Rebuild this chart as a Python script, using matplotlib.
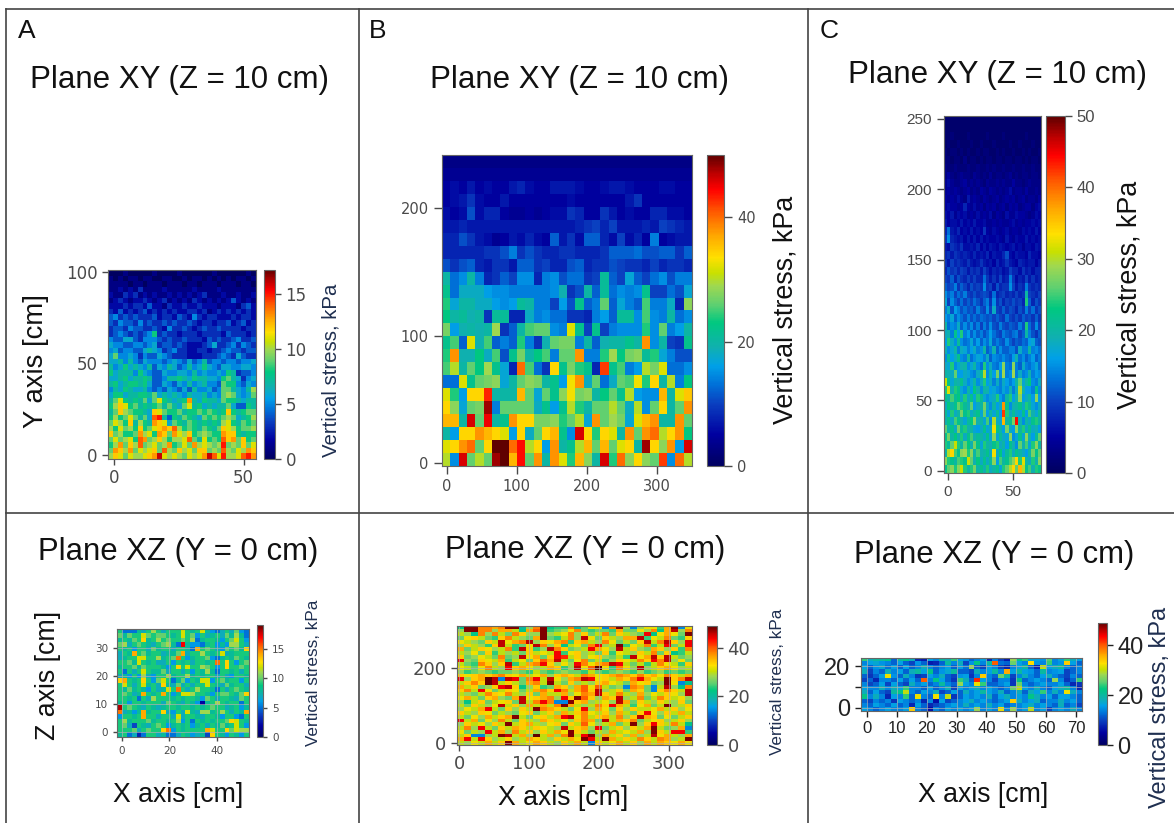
import numpy as np
import matplotlib
matplotlib.use("Agg")
import matplotlib.pyplot as plt
from matplotlib.lines import Line2D
from matplotlib.colors import LinearSegmentedColormap

plt.rcParams['font.family'] = ['Liberation Sans', 'DejaVu Sans']

W, H = 1174, 823

# values, kPa, top row first
stress_a = [
[0,0,0,1,0,0,0,0,0,1,0,0,0,0,1,0,0,0,0,0,0,1,0,0,0,0,0,0,1,0],
[1,0,1,0,1,1,0,1,1,0,0,1,1,0,0,1,0,1,1,0,1,0,1,0,1,0,1,1,0,1],
[1,1,1,1,0,1,1,0,1,1,1,0,1,1,1,0,1,1,0,1,1,1,0,1,1,1,0,1,1,0],
[1,1,2,1,2,1,3,1,1,1,1,2,1,1,1,1,1,2,1,1,1,1,2,1,1,1,1,1,1,1],
[2,1,1,3,2,3,1,2,1,2,1,1,2,1,2,1,2,1,2,3,1,1,1,2,1,1,2,1,1,2],
[1,2,3,2,1,2,2,3,2,1,2,3,1,2,1,2,1,3,2,1,2,1,2,1,2,4,2,1,2,1],
[2,2,2,3,2,3,3,2,4,2,2,1,3,2,2,3,2,2,3,2,2,2,1,2,2,2,1,3,4,2],
[3,2,4,2,3,2,3,4,2,3,2,3,2,3,2,2,3,3,2,3,1,2,3,2,3,2,3,2,3,2],
[4,5,3,4,3,4,3,3,3,4,2,3,3,2,4,3,2,5,3,2,3,3,2,2,2,3,2,3,3,2],
[4,3,5,4,4,3,5,3,4,3,3,4,3,4,3,3,4,3,2,3,3,2,3,3,4,2,3,4,2,3],
[3,4,4,3,5,4,4,3,3,4,3,2,5,3,3,4,3,2,3,4,3,3,4,3,3,3,3,2,3,3],
[3,4,5,4,3,4,3,4,5,8,3,4,3,3,2,3,3,3,2,3,3,3,3,2,4,3,3,3,2,3],
[5,4,4,6,6,4,3,5,5,5,4,3,4,3,3,4,3,3,3,2,4,3,4,3,3,4,5,3,3,4],
[6,5,5,4,4,5,5,4,5,6,3,4,4,3,4,3,2,2,2,3,4,6,3,3,4,5,3,5,4,3],
[5,6,4,5,5,4,4,6,7,6,5,3,4,5,3,3,2,2,3,3,2,3,3,4,5,4,4,3,4,4],
[6,9,5,5,6,5,3,5,4,4,6,5,4,3,3,3,2,2,2,3,3,3,4,5,4,3,6,4,3,3],
[6,6,7,5,7,5,4,6,5,5,5,4,5,6,5,4,6,4,5,7,4,5,5,4,5,5,4,5,5,6],
[7,5,6,8,6,7,6,5,7,4,6,5,7,6,4,5,7,5,6,8,6,5,4,6,6,5,5,6,6,5],
[8,6,7,7,7,5,8,6,5,4,4,6,5,5,6,6,5,7,5,6,5,5,6,5,8,7,3,4,4,5],
[6,6,7,8,6,7,7,8,7,4,4,5,7,7,8,7,6,8,7,7,6,6,5,8,9,7,6,3,5,6],
[7,8,6,7,8,8,7,8,6,4,4,6,5,4,6,5,7,5,6,7,5,5,4,9,8,8,5,4,6,5],
[5,7,6,8,7,6,6,7,5,4,5,4,6,5,4,6,4,7,5,5,6,4,5,9,9,7,6,5,7,10],
[6,8,8,6,7,7,8,8,7,9,6,7,6,7,6,5,7,6,6,7,5,6,5,9,10,9,6,5,6,9],
[7,9,11,8,7,8,7,9,6,9,11,8,7,6,7,8,13,7,6,8,7,7,6,9,8,8,7,6,7,7],
[8,10,12,11,8,9,7,8,7,8,9,7,9,7,6,9,11,7,8,6,7,6,7,7,9,6,4,4,8,7],
[7,9,12,10,9,8,8,7,6,12,11,9,8,8,9,7,8,8,9,8,9,8,7,8,12,8,7,8,9,9],
[8,10,8,9,11,9,7,9,6,14,15,7,4,8,7,9,8,7,6,9,8,9,8,9,10,9,6,7,8,10],
[9,11,10,8,12,7,10,8,7,13,12,11,6,9,8,7,9,8,7,8,7,8,7,10,11,8,7,9,8,9],
[10,8,11,9,10,8,12,8,9,11,12,13,12,14,10,8,9,8,7,9,8,7,9,12,11,10,8,9,9,10],
[12,9,10,8,8,9,13,10,11,8,13,12,9,13,11,10,12,8,9,10,9,8,8,13,12,12,8,7,8,8],
[9,11,9,10,11,8,14,13,9,10,12,10,8,10,10,11,14,9,7,11,8,9,8,14,12,13,9,12,8,9],
[8,10,13,9,12,10,14,9,10,11,9,10,13,8,9,11,9,13,10,11,10,9,10,15,9,10,9,12,9,11],
[9,13,12,10,13,9,11,10,11,12,9,14,10,9,12,10,11,9,12,12,9,10,9,14,10,9,11,10,13,12],
[10,12,11,9,11,10,10,11,12,13,16,11,10,11,10,9,11,10,11,13,16,14,11,15,10,10,11,14,15,13],
]

stress_b = [
[3,3,3,3,3,3,3,3,3,3,3,3,3,3,3,3,3,3,3,3,3,3,3,3,3,3,3,3,3,3],
[4,4,4,4,4,4,4,4,4,4,4,4,4,4,4,4,4,4,4,4,4,4,4,4,4,4,4,4,4,4],
[5,6,5,7,5,6,5,5,7,8,6,5,5,7,7,7,6,5,5,6,7,7,6,5,5,5,6,6,5,5],
[5,6,7,9,6,5,5,7,5,5,5,5,5,5,5,6,5,5,5,5,5,5,7,9,5,5,5,5,5,5],
[6,5,6,11,6,8,8,5,4,4,5,4,5,6,6,9,8,5,5,9,7,5,6,5,5,8,8,6,6,5],
[7,7,8,7,7,7,7,7,7,7,7,7,7,7,7,7,8,9,10,8,10,7,7,7,8,7,10,9,8,7],
[8,8,11,9,7,6,4,5,7,6,8,6,5,12,7,9,6,12,12,8,6,10,6,8,5,14,5,6,7,7],
[8,8,8,8,8,9,9,11,14,9,11,9,8,8,9,9,8,8,8,9,12,12,12,13,11,11,12,12,9,12],
[11,9,11,12,8,7,9,9,7,12,12,9,10,8,8,11,12,8,9,9,11,10,9,9,8,10,8,9,9,8],
[20,13,15,20,14,8,9,12,10,15,15,8,14,15,11,13,13,9,10,21,12,10,17,12,10,13,15,11,14,14],
[22,13,18,18,18,16,15,15,14,14,14,14,14,15,19,9,11,20,12,21,13,15,14,15,22,10,10,13,11,17],
[24,17,20,20,18,18,16,15,16,21,20,14,14,10,16,11,22,12,14,26,12,17,14,12,25,14,14,18,8,28],
[23,20,21,19,20,9,21,21,8,8,18,14,15,13,13,9,9,8,14,16,12,21,21,15,25,15,14,20,13,15],
[27,16,19,20,19,20,29,9,12,20,25,26,26,15,14,32,22,10,22,10,14,15,15,15,24,15,26,14,16,20],
[22,25,12,32,19,25,12,14,12,24,14,9,19,26,27,27,14,20,12,19,20,20,22,20,38,15,20,10,9,22],
[24,38,19,19,23,18,25,11,22,27,20,23,25,14,26,26,38,14,14,24,29,23,27,28,21,24,17,14,11,11],
[25,30,20,26,23,29,22,17,8,40,25,13,9,34,22,27,24,22,8,42,22,25,14,16,30,27,32,13,13,15],
[13,13,32,22,26,27,28,17,20,26,28,27,20,22,16,33,38,18,26,13,18,26,25,33,24,34,20,30,14,23],
[32,24,16,34,34,43,20,20,20,36,26,17,26,22,28,33,27,28,20,23,26,22,30,16,15,15,36,20,32,35],
[34,28,17,26,27,48,14,26,26,26,26,18,22,16,22,30,24,20,26,26,30,26,18,30,15,26,34,20,26,38],
[36,36,20,46,26,45,20,22,38,34,34,27,27,28,24,26,30,17,38,26,29,27,17,32,36,38,20,20,38,26],
[20,16,34,34,38,36,34,32,16,34,18,26,34,36,22,15,46,34,24,34,32,20,38,26,38,40,30,34,38,23],
[32,34,38,40,26,34,50,50,40,44,30,34,16,38,20,22,30,36,26,36,26,32,34,20,48,34,28,38,16,46],
[30,15,46,26,30,26,48,50,36,44,26,38,20,38,32,24,36,28,20,46,24,40,28,34,28,26,42,15,40,30],
]

stress_c = [
[1,1,1,1,1,1,1,1,1,1,1,1,1,1,1,1,1,1,1,1,1,1,1,1,1,1,1,1,1,1],
[1,1,1,1,1,1,1,1,1,1,1,1,1,1,1,1,1,1,1,1,1,1,1,1,1,1,1,1,1,1],
[1,1,2,1,1,1,1,2,1,1,1,1,1,2,1,1,1,1,2,1,1,1,1,1,1,2,1,1,1,1],
[1,2,1,1,2,1,1,1,2,1,1,2,1,1,1,2,1,1,1,1,2,1,1,2,1,1,1,2,1,1],
[2,1,2,2,1,2,1,2,1,1,2,1,2,2,1,1,2,1,2,1,1,2,1,1,2,1,2,1,1,2],
[2,2,1,2,2,1,3,1,2,2,1,2,1,2,2,1,2,2,1,2,2,1,2,2,1,2,1,2,2,1],
[3,2,2,3,2,2,2,3,2,2,3,2,2,3,2,3,2,2,3,2,2,3,2,2,3,2,2,3,2,2],
[3,5,3,2,3,4,3,3,2,4,3,2,3,2,4,2,3,3,2,3,4,2,3,2,3,3,2,3,3,2],
[4,6,4,3,3,4,5,3,4,3,4,3,2,4,3,3,4,3,4,3,3,5,3,3,2,3,4,3,3,3],
[4,5,4,5,4,3,4,5,3,4,3,5,4,3,5,4,3,4,3,4,6,3,4,4,3,5,3,3,4,3],
[5,4,5,4,6,4,3,7,4,5,4,3,5,4,3,4,5,3,4,5,4,5,3,4,5,3,4,4,3,5],
[5,6,5,5,4,5,8,5,4,6,4,5,3,5,4,5,3,4,5,3,5,4,5,3,4,5,5,3,5,6],
[6,5,7,4,6,5,6,4,5,4,6,4,5,4,6,3,5,4,3,6,4,4,6,5,5,4,3,4,6,5],
[7,5,6,6,5,7,5,6,5,7,5,5,6,4,4,5,4,5,4,4,5,6,4,5,4,5,5,6,5,6],
[8,13,7,6,8,5,6,5,7,5,6,5,9,5,4,6,5,4,5,6,4,5,5,4,6,5,6,5,7,5],
[9,15,8,7,6,7,5,7,5,7,5,7,5,6,5,5,6,5,4,7,5,4,6,5,5,7,5,6,5,6],
[7,6,9,8,7,9,6,6,7,6,8,5,7,5,7,6,5,7,6,5,6,7,5,6,4,6,6,5,7,6],
[8,9,7,9,8,7,8,7,6,8,6,7,6,8,5,7,6,6,8,11,6,5,7,6,6,5,8,6,6,5],
[9,7,10,8,9,8,7,9,7,6,7,9,7,6,7,5,8,6,7,9,7,6,5,8,7,6,7,7,5,7],
[8,11,9,10,8,10,9,7,9,8,9,7,10,8,6,8,7,8,6,7,10,8,8,6,9,7,8,6,8,8],
[10,9,12,8,11,9,8,10,8,10,8,8,13,9,7,9,7,10,7,8,14,9,6,8,7,10,7,9,7,8],
[12,10,11,14,9,12,10,8,11,9,10,9,15,9,10,7,11,8,9,9,15,10,7,9,8,14,9,8,9,8],
[15,12,14,10,13,11,14,10,9,11,9,10,11,10,8,13,8,9,10,8,9,8,10,8,9,20,10,9,8,10],
[17,10,15,12,10,13,10,12,10,13,11,9,12,14,9,15,9,11,8,10,9,11,9,10,8,24,12,8,11,9],
[14,18,11,16,14,11,13,11,12,10,14,11,10,15,10,18,10,9,12,9,11,10,8,11,9,14,10,13,9,11],
[16,14,17,12,15,13,11,14,11,13,11,13,12,11,12,10,12,10,9,13,10,9,11,9,12,10,11,9,12,9],
[20,13,15,14,18,12,15,12,15,11,14,10,14,11,15,11,10,14,11,10,12,11,10,14,11,24,13,10,15,10],
[18,19,14,22,16,24,14,16,12,15,12,14,11,13,16,13,11,10,14,12,11,13,14,10,12,20,14,11,9,12],
[16,24,18,15,21,15,13,14,17,13,16,12,15,13,17,12,14,12,11,15,12,10,12,11,13,12,16,17,12,11],
[19,15,17,20,14,18,17,14,16,18,14,15,20,12,14,19,12,15,12,12,14,14,11,18,14,14,20,14,15,13],
[15,21,16,18,22,15,14,20,13,15,17,16,14,18,12,15,14,13,15,13,12,16,19,13,15,12,14,16,12,14],
[18,17,24,15,17,19,20,15,17,20,15,13,24,15,18,14,13,16,28,14,13,28,14,12,18,14,13,15,17,13],
[20,19,18,26,16,16,18,17,15,14,18,21,30,15,20,16,27,15,29,14,15,29,14,18,14,15,19,14,16,15],
[31,22,17,20,19,22,18,15,17,20,15,18,24,16,18,14,18,14,18,16,14,16,20,26,17,20,23,15,14,18],
[24,32,19,24,22,17,15,20,16,23,19,15,20,19,16,17,15,14,17,15,19,14,18,30,19,16,16,14,22,15],
[22,20,25,21,23,18,24,18,22,17,24,21,17,15,17,18,24,16,14,20,24,16,19,28,16,18,20,16,28,16],
[18,23,20,22,26,24,21,19,26,16,18,20,27,18,15,20,16,18,38,22,15,19,20,22,18,24,21,17,15,18],
[21,17,24,18,20,27,22,24,18,20,22,17,26,16,20,17,21,16,42,24,18,21,18,17,22,16,25,19,17,21],
[19,22,18,25,22,19,17,21,23,28,19,20,17,25,15,30,18,17,36,20,22,27,44,19,15,20,18,22,24,20],
[26,20,22,18,27,21,24,19,20,17,16,18,22,17,18,33,22,20,16,27,18,16,28,20,24,18,22,18,19,16],
[22,27,20,23,19,24,18,22,25,19,21,20,18,22,17,28,17,21,18,17,28,15,17,22,17,28,19,16,21,26],
[24,21,26,31,24,20,26,23,19,27,22,17,24,20,19,22,24,18,20,16,22,19,15,26,19,25,17,24,28,20],
[20,30,34,25,22,28,29,24,28,20,25,19,20,22,18,33,18,23,17,21,24,18,22,20,18,16,20,27,22,26],
[28,24,22,20,25,24,22,31,26,19,23,18,22,18,21,28,16,25,20,22,25,28,34,24,32,20,18,24,19,28],
[22,26,28,24,28,31,24,20,24,27,20,22,19,24,18,20,22,17,24,26,30,34,26,36,30,22,25,19,24,22],
]

stress_d = [
[9,5,5,5,8,7,9,11,9,7,9,9,9,12,9,8,9,12,8,6,5,7,9,7,10,6,5],
[10,8,10,9,9,12,10,9,10,10,9,8,9,12,9,10,6,9,7,8,9,7,10,8,11,8,5],
[8,9,8,10,9,13,8,9,11,9,10,9,9,10,9,11,5,8,9,9,8,6,9,10,12,9,6],
[10,11,7,9,10,9,8,7,9,10,11,8,5,17,8,6,6,5,8,9,6,8,6,11,11,9,7],
[9,8,9,6,9,9,7,10,8,9,9,7,9,9,8,5,14,9,10,9,7,6,10,9,10,8,13],
[7,9,8,14,9,10,8,9,9,7,8,8,10,14,7,9,9,11,9,8,9,12,7,8,9,9,9],
[7,8,9,9,12,12,9,9,11,8,9,10,15,9,6,8,9,9,10,6,5,8,9,8,10,9,8],
[9,9,10,8,12,9,8,9,7,7,9,6,9,8,9,7,9,9,8,9,15,9,13,9,6,9,10],
[8,9,9,10,8,10,9,9,9,8,6,9,13,9,12,9,9,11,10,9,6,9,13,9,9,10,9],
[9,5,9,7,9,12,9,8,8,10,7,9,9,7,9,6,9,8,11,8,5,9,9,8,9,7,9],
[7,8,6,9,6,11,7,6,9,9,11,8,9,9,11,8,9,8,9,9,7,9,7,6,9,9,8],
[13,14,9,8,9,13,9,6,10,12,9,5,8,10,6,9,8,12,12,6,9,10,8,9,9,6,9],
[9,12,9,7,9,12,8,9,7,13,8,7,10,7,9,7,9,9,12,9,8,7,10,8,9,9,7],
[9,8,10,8,9,8,6,9,7,8,12,9,15,9,7,9,11,9,9,8,5,9,7,9,10,9,8],
[9,10,9,7,8,14,9,8,9,14,9,6,8,12,12,11,9,9,8,6,9,10,10,9,8,10,13],
[9,9,8,9,5,9,7,11,9,9,9,8,9,8,9,9,8,6,10,9,7,9,9,8,7,10,9],
[8,9,6,9,9,8,9,9,9,7,10,9,8,7,9,8,6,2,8,9,11,9,8,9,9,5,9],
[18,9,10,9,8,7,9,8,7,8,9,9,8,9,9,8,9,8,9,10,9,9,7,8,9,6,8],
[15,7,8,6,8,14,8,9,9,13,7,6,9,7,12,8,7,11,11,8,9,11,9,7,9,8,14],
[6,9,9,8,9,14,9,9,7,9,9,7,12,7,9,9,8,7,9,9,8,6,9,9,6,5,9],
[9,11,8,9,9,9,10,8,9,9,8,9,11,6,9,5,9,8,9,8,9,9,10,13,12,9,8],
[9,10,7,4,9,8,7,9,10,9,6,8,9,8,9,6,8,9,7,9,8,10,8,9,12,9,6],
[9,9,9,10,7,9,10,9,9,13,15,6,9,8,9,9,9,9,14,12,9,9,13,10,12,11,11],
[8,9,5,7,3,5,9,9,7,8,5,5,7,9,8,6,7,8,4,13,9,8,6,9,8,6,9],
]

stress_e = [
[22,48,48,38,38,36,38,48,48,20,28,38,48,22,24,24,38,20,26,32,32,14,38,48,28,14,28,32,32,24,36,48,14,32],
[28,48,48,38,38,28,36,36,30,22,36,40,48,24,26,28,32,38,26,24,26,26,24,36,26,26,32,28,38,22,36,46,28,38],
[30,28,22,38,28,38,30,26,38,34,28,28,48,28,30,32,38,28,34,26,30,38,26,34,30,28,26,44,22,32,36,32,26,48],
[26,32,34,30,26,24,34,38,30,28,26,36,48,26,24,30,38,28,46,32,26,34,30,28,36,36,46,24,32,30,38,26,24,34],
[32,30,28,26,34,30,46,32,36,38,46,28,34,32,36,38,24,34,36,30,28,38,32,26,30,26,34,46,30,38,46,34,28,44],
[28,34,30,28,24,34,46,30,24,26,32,46,38,28,34,22,30,32,26,38,44,28,30,48,24,32,30,38,24,30,44,26,30,44],
[36,26,30,34,32,28,30,38,24,46,34,24,28,46,38,34,26,28,30,44,36,32,28,46,30,34,28,26,36,34,28,34,24,38],
[30,28,32,26,34,24,30,28,30,26,34,30,32,30,44,24,32,34,28,30,26,34,24,32,30,28,34,30,38,26,34,22,24,30],
[34,26,28,32,30,26,38,26,28,46,32,36,26,34,44,42,30,34,28,32,34,28,26,30,24,46,32,36,46,34,46,30,26,28],
[44,28,26,34,32,30,36,24,30,32,26,34,40,36,46,30,26,32,38,26,30,24,28,34,32,30,38,34,44,38,46,28,32,26],
[30,26,24,38,34,28,34,46,24,30,36,38,44,34,28,32,28,44,38,32,36,38,46,44,30,26,30,24,30,38,32,30,24,34],
[32,30,26,32,38,30,28,44,34,36,32,28,30,36,34,24,28,46,32,40,50,32,24,38,32,28,46,28,30,34,36,32,28,30],
[28,24,26,28,26,24,26,26,28,26,24,30,26,24,26,28,26,26,24,30,26,24,26,28,26,24,28,24,26,28,24,26,24,26],
[34,32,34,36,34,36,38,34,32,36,30,32,36,28,34,36,34,30,38,36,32,34,36,38,36,34,38,34,36,32,38,34,30,36],
[44,28,34,36,50,46,14,46,44,26,38,44,30,46,32,28,36,38,46,44,32,34,30,36,34,38,44,36,32,30,48,34,38,46],
[30,34,38,34,50,46,30,34,30,26,36,38,30,48,30,26,34,28,30,28,34,36,32,30,26,36,32,34,26,28,48,32,14,22],
[36,30,34,26,28,34,44,46,34,22,28,34,24,26,36,34,28,36,40,32,40,30,26,28,14,38,36,26,14,30,46,28,22,38],
[34,38,30,44,32,26,30,34,32,26,30,36,38,34,44,38,30,36,40,34,46,28,30,34,26,36,34,26,14,34,38,34,30,46],
[30,28,26,30,38,34,32,38,30,28,34,26,36,30,30,36,28,32,38,36,46,34,30,38,30,28,36,28,32,30,34,32,28,46],
[32,36,30,26,34,36,28,26,36,46,32,34,36,38,28,44,34,48,40,34,28,36,34,46,28,30,38,26,30,38,34,30,32,28],
[28,22,30,34,26,30,32,34,26,46,30,38,44,38,14,14,48,34,36,28,30,32,28,46,36,26,34,30,28,34,30,28,34,26],
[30,26,34,30,28,32,46,30,34,28,36,30,36,30,38,48,36,30,28,30,38,34,44,36,30,24,32,36,26,30,48,28,30,34],
[28,32,30,36,44,30,26,34,28,34,30,48,38,36,34,30,26,32,44,28,36,32,26,34,28,34,30,30,32,36,30,34,28,32],
[34,30,28,34,32,26,30,28,26,32,34,26,30,34,28,36,30,34,38,32,30,34,28,36,30,26,34,44,32,28,34,30,36,30],
[30,26,32,28,36,30,34,36,48,30,26,32,34,30,36,44,46,32,38,30,34,36,30,38,28,34,46,36,34,26,32,26,30,34],
[44,30,36,26,32,28,38,30,26,34,30,28,36,34,30,32,28,34,38,36,26,46,30,36,34,38,26,30,32,34,28,30,34,28],
[28,34,30,32,28,34,30,48,30,34,36,30,28,32,34,26,34,30,40,32,28,30,36,26,30,48,28,34,44,34,30,38,30,22],
[30,38,28,44,30,26,34,30,36,34,30,34,32,30,28,46,30,34,36,28,44,26,30,34,28,34,30,36,48,30,26,28,36,14],
[32,26,30,28,44,30,36,28,38,30,34,28,34,30,36,32,48,34,30,26,30,28,36,30,32,30,36,28,48,34,30,44,44,24],
[30,34,14,14,28,30,48,46,30,36,28,50,30,36,28,38,48,30,44,48,28,36,30,34,28,36,28,30,46,32,36,30,28,36],
[36,44,30,44,34,28,30,34,28,30,36,34,30,28,34,30,36,32,48,44,30,48,36,30,34,30,38,34,30,38,36,28,30,48],
[30,28,32,30,36,30,34,48,36,30,32,36,34,30,28,34,30,36,30,14,34,30,32,36,30,34,28,36,30,36,34,32,36,32],
]

stress_f = [
[24,18,20,20,22,12,20,22,18,8,7,16,14,20,18,24,16,15,12,14,16,8,14,10,7,28,22,24,17,16,15,25,14,17,24,18,16],
[14,16,17,15,14,12,16,12,10,15,12,7,8,12,20,14,18,10,15,22,14,20,40,13,12,26,16,14,33,15,14,24,14,15,34,16,12],
[16,12,15,17,13,16,12,16,12,14,18,14,12,14,16,12,16,13,28,12,10,16,14,10,8,14,16,20,12,8,30,16,18,20,14,12,14],
[18,10,14,12,18,14,16,12,18,20,16,22,12,15,17,20,12,12,10,18,14,16,20,14,36,16,20,16,15,12,20,14,15,16,10,12,14],
[12,9,12,16,32,15,12,18,14,9,10,16,14,18,12,10,15,16,9,14,34,14,12,26,20,10,14,18,14,12,16,18,14,12,10,14,12],
[10,12,8,14,14,12,16,12,16,12,40,14,22,16,12,9,24,18,12,42,16,14,10,14,14,9,22,12,14,16,14,12,28,14,9,12,24],
[14,10,12,16,10,16,12,10,18,14,16,12,14,20,14,12,28,16,14,32,24,12,12,14,16,9,26,14,12,14,16,14,14,16,12,8,9],
[16,14,14,18,14,18,16,24,14,14,12,16,12,14,18,10,16,14,16,18,14,16,14,12,14,26,30,16,14,18,14,12,16,18,20,14,8],
[18,12,16,12,10,20,22,30,14,12,16,14,18,10,12,16,12,18,14,16,20,16,14,18,12,14,18,12,18,16,24,14,18,14,32,18,14],
[22,14,18,14,8,16,14,24,12,32,14,12,32,14,30,9,12,16,14,16,14,18,12,16,18,14,16,14,22,18,14,16,12,16,16,14,12],
[12,10,14,12,14,9,16,14,12,14,8,14,6,16,10,12,14,16,18,14,16,14,12,14,16,34,18,14,16,18,12,14,14,18,14,16,12],
[14,12,16,14,12,16,12,14,8,16,12,8,10,12,14,16,14,18,14,16,14,18,14,16,12,14,14,16,18,14,16,14,12,18,12,14,10],
[16,14,12,14,16,14,14,16,34,14,12,6,14,12,16,14,16,14,16,28,14,16,14,32,14,28,14,16,30,14,16,10,14,16,14,18,14],
]

ticks_a_x, ticks_a_y, ticks_a_c = [0, 50], [0, 50, 100], [0, 5, 10, 15]
ticks_b_x, ticks_b_y, ticks_b_c = [0, 100, 200, 300], [0, 100, 200], [0, 20, 40]
ticks_c_x, ticks_c_y, ticks_c_c = [0, 50], [0, 50, 100, 150, 200, 250], [0, 10, 20, 30, 40, 50]
ticks_d_x, ticks_d_y, ticks_d_c = [0, 20, 40], [0, 10, 20, 30], [0, 5, 10, 15]
ticks_e_x, ticks_e_y, ticks_e_c = [0, 100, 200, 300], [0, 200], [0, 20, 40]
ticks_f_x, ticks_f_y, ticks_f_c = [0, 10, 20, 30, 40, 50, 60, 70], [0, 10, 20], [0, 20, 40]

# colours of the printed colour bar, bottom to top
bar_pos = [0, 5, 10, 13, 16, 19, 23, 26, 29, 31, 33.5, 37, 41, 44.5, 47, 50]
bar_col = ['#000060', '#0000a0', '#0a40c0', '#0070d8', '#00a0e8', '#10b0b0', '#00c880', '#60d070',
           '#a0d850', '#c8e000', '#ffe000', '#ffa800', '#ff5800', '#ff0000', '#c00000', '#600000']
stress_cmap = LinearSegmentedColormap.from_list('stress', [(p / 50, c) for p, c in zip(bar_pos, bar_col)])

GREY = '#4a4a4a'
DEJAVU = 'DejaVu Sans'
ARIAL = 'Liberation Sans'


def box(l, t, r, b):
    return [l / W, 1 - b / H, (r - l) / W, (b - t) / H]


def label(x, y, s, size, rot=0, color='#111111', ha='center'):
    fig.text(x / W, 1 - y / H, s, fontsize=size, rotation=rot, color=color, ha=ha, va='center')


def panel(data, ax_box, cax_box, xlim, ylim, vmax, xt, yt, ct, xsize, ysize, csize, font=DEJAVU,
          grid=False, color=GREY, ytl=None, tick=4):
    ax = fig.add_axes(box(*ax_box))
    im = ax.imshow(np.array(data), cmap=stress_cmap, vmin=0, vmax=vmax, aspect='auto',
                   extent=[xlim[0], xlim[1], ylim[0], ylim[1]], interpolation='nearest')
    ax.set_xticks(xt)
    ax.set_yticks(yt)
    if ytl:
        ax.set_yticklabels(ytl)
    ax.tick_params(axis='x', labelsize=xsize, colors=color, length=tick, width=1)
    ax.tick_params(axis='y', labelsize=ysize, colors=color, length=tick, width=1)
    for t in ax.get_xticklabels() + ax.get_yticklabels():
        t.set_family(font)
    if grid:
        ax.grid(color='#b0b0b0', linewidth=0.7, alpha=0.7)
    for s in ax.spines.values():
        s.set_color('#666666')
    cax = fig.add_axes(box(*cax_box))
    cb = fig.colorbar(im, cax=cax)
    cb.set_ticks(ct)
    cb.ax.tick_params(labelsize=csize, colors=color, length=tick, width=1)
    for t in cb.ax.get_yticklabels():
        t.set_family(font)
    cb.outline.set_edgecolor('#666666')
    return ax


fig = plt.figure(figsize=(W / 100, H / 100), dpi=100)

panel(stress_a, (108, 270, 256, 459), (264, 270, 275, 459), (-2.2, 54.8), (-2.2, 101), 17.2,
      ticks_a_x, ticks_a_y, ticks_a_c, 12, 12, 12)
panel(stress_b, (442, 155, 692, 466), (707, 155, 724, 466), (-7, 350), (-2.4, 242), 50,
      ticks_b_x, ticks_b_y, ticks_b_c, 10.5, 10.5, 10.5, tick=6)
panel(stress_c, (944, 116, 1041, 473), (1046, 116, 1065, 473), (-3, 72), (-1.5, 252), 50,
      ticks_c_x, ticks_c_y, ticks_c_c, 11, 11, 12, font=ARIAL, tick=5)
panel(stress_d, (117, 629, 249, 737), (257, 625, 263, 737), (-2.1, 53.5), (-1.8, 36.8), 19,
      ticks_d_x, ticks_d_y, ticks_d_c, 7.5, 7.5, 7.5, grid=True, tick=3)
panel(stress_e, (457, 626, 692, 745), (707, 626, 717, 745), (-3, 333), (-5, 310), 49,
      ticks_e_x, ticks_e_y, ticks_e_c, 13, 13, 13, grid=True)
panel(stress_f, (861, 658, 1082, 711), (1098, 623, 1107, 745), (-2, 72), (-1.5, 24), 49,
      ticks_f_x, ticks_f_y, ticks_f_c, 12, 17, 17, font=ARIAL, grid=True, color='#222222', ytl=['0', '', '20'])

label(18, 31, 'A', 19, ha='left')
label(369, 31, 'B', 19, ha='left')
label(820, 31, 'C', 19, ha='left')

label(180, 80, 'Plane XY (Z = 10 cm)', 22.5)
label(580, 80, 'Plane XY (Z = 10 cm)', 22.5)
label(998, 75, 'Plane XY (Z = 10 cm)', 22.5)
label(178, 552, 'Plane XZ (Y = 0 cm)', 22.4)
label(585, 550, 'Plane XZ (Y = 0 cm)', 22.4)
label(994, 555, 'Plane XZ (Y = 0 cm)', 22.4)

label(36, 361, 'Y axis [cm]', 19.8, rot=90)
label(48, 675, 'Z axis [cm]', 19.3, rot=90)
label(178, 795, 'X axis [cm]', 19.2)
label(563, 798, 'X axis [cm]', 19.2)
label(983, 795, 'X axis [cm]', 19.2)

label(331, 370, 'Vertical stress, kPa', 14.7, rot=90, color='#1f2f50')
label(785, 310, 'Vertical stress, kPa', 19.4, rot=90)
label(1130, 295, 'Vertical stress, kPa', 19.4, rot=90)
label(313, 673, 'Vertical stress, kPa', 12.3, rot=90, color='#1f2f50')
label(777, 682, 'Vertical stress, kPa', 12.3, rot=90, color='#1f2f50')
label(1160, 707, 'Vertical stress, kPa', 17, rot=90, color='#1f2f50')

# table frame
for x0, y0, x1, y1 in [(6, 9, 1174, 9), (6, 513, 1174, 513), (359, 9, 359, 823), (808, 9, 808, 823),
                       (6, 9, 6, 823)]:
    fig.add_artist(Line2D([x0 / W, x1 / W], [1 - y0 / H, 1 - y1 / H], color='#444444', linewidth=1.2))

fig.savefig('out.png', dpi=100)
